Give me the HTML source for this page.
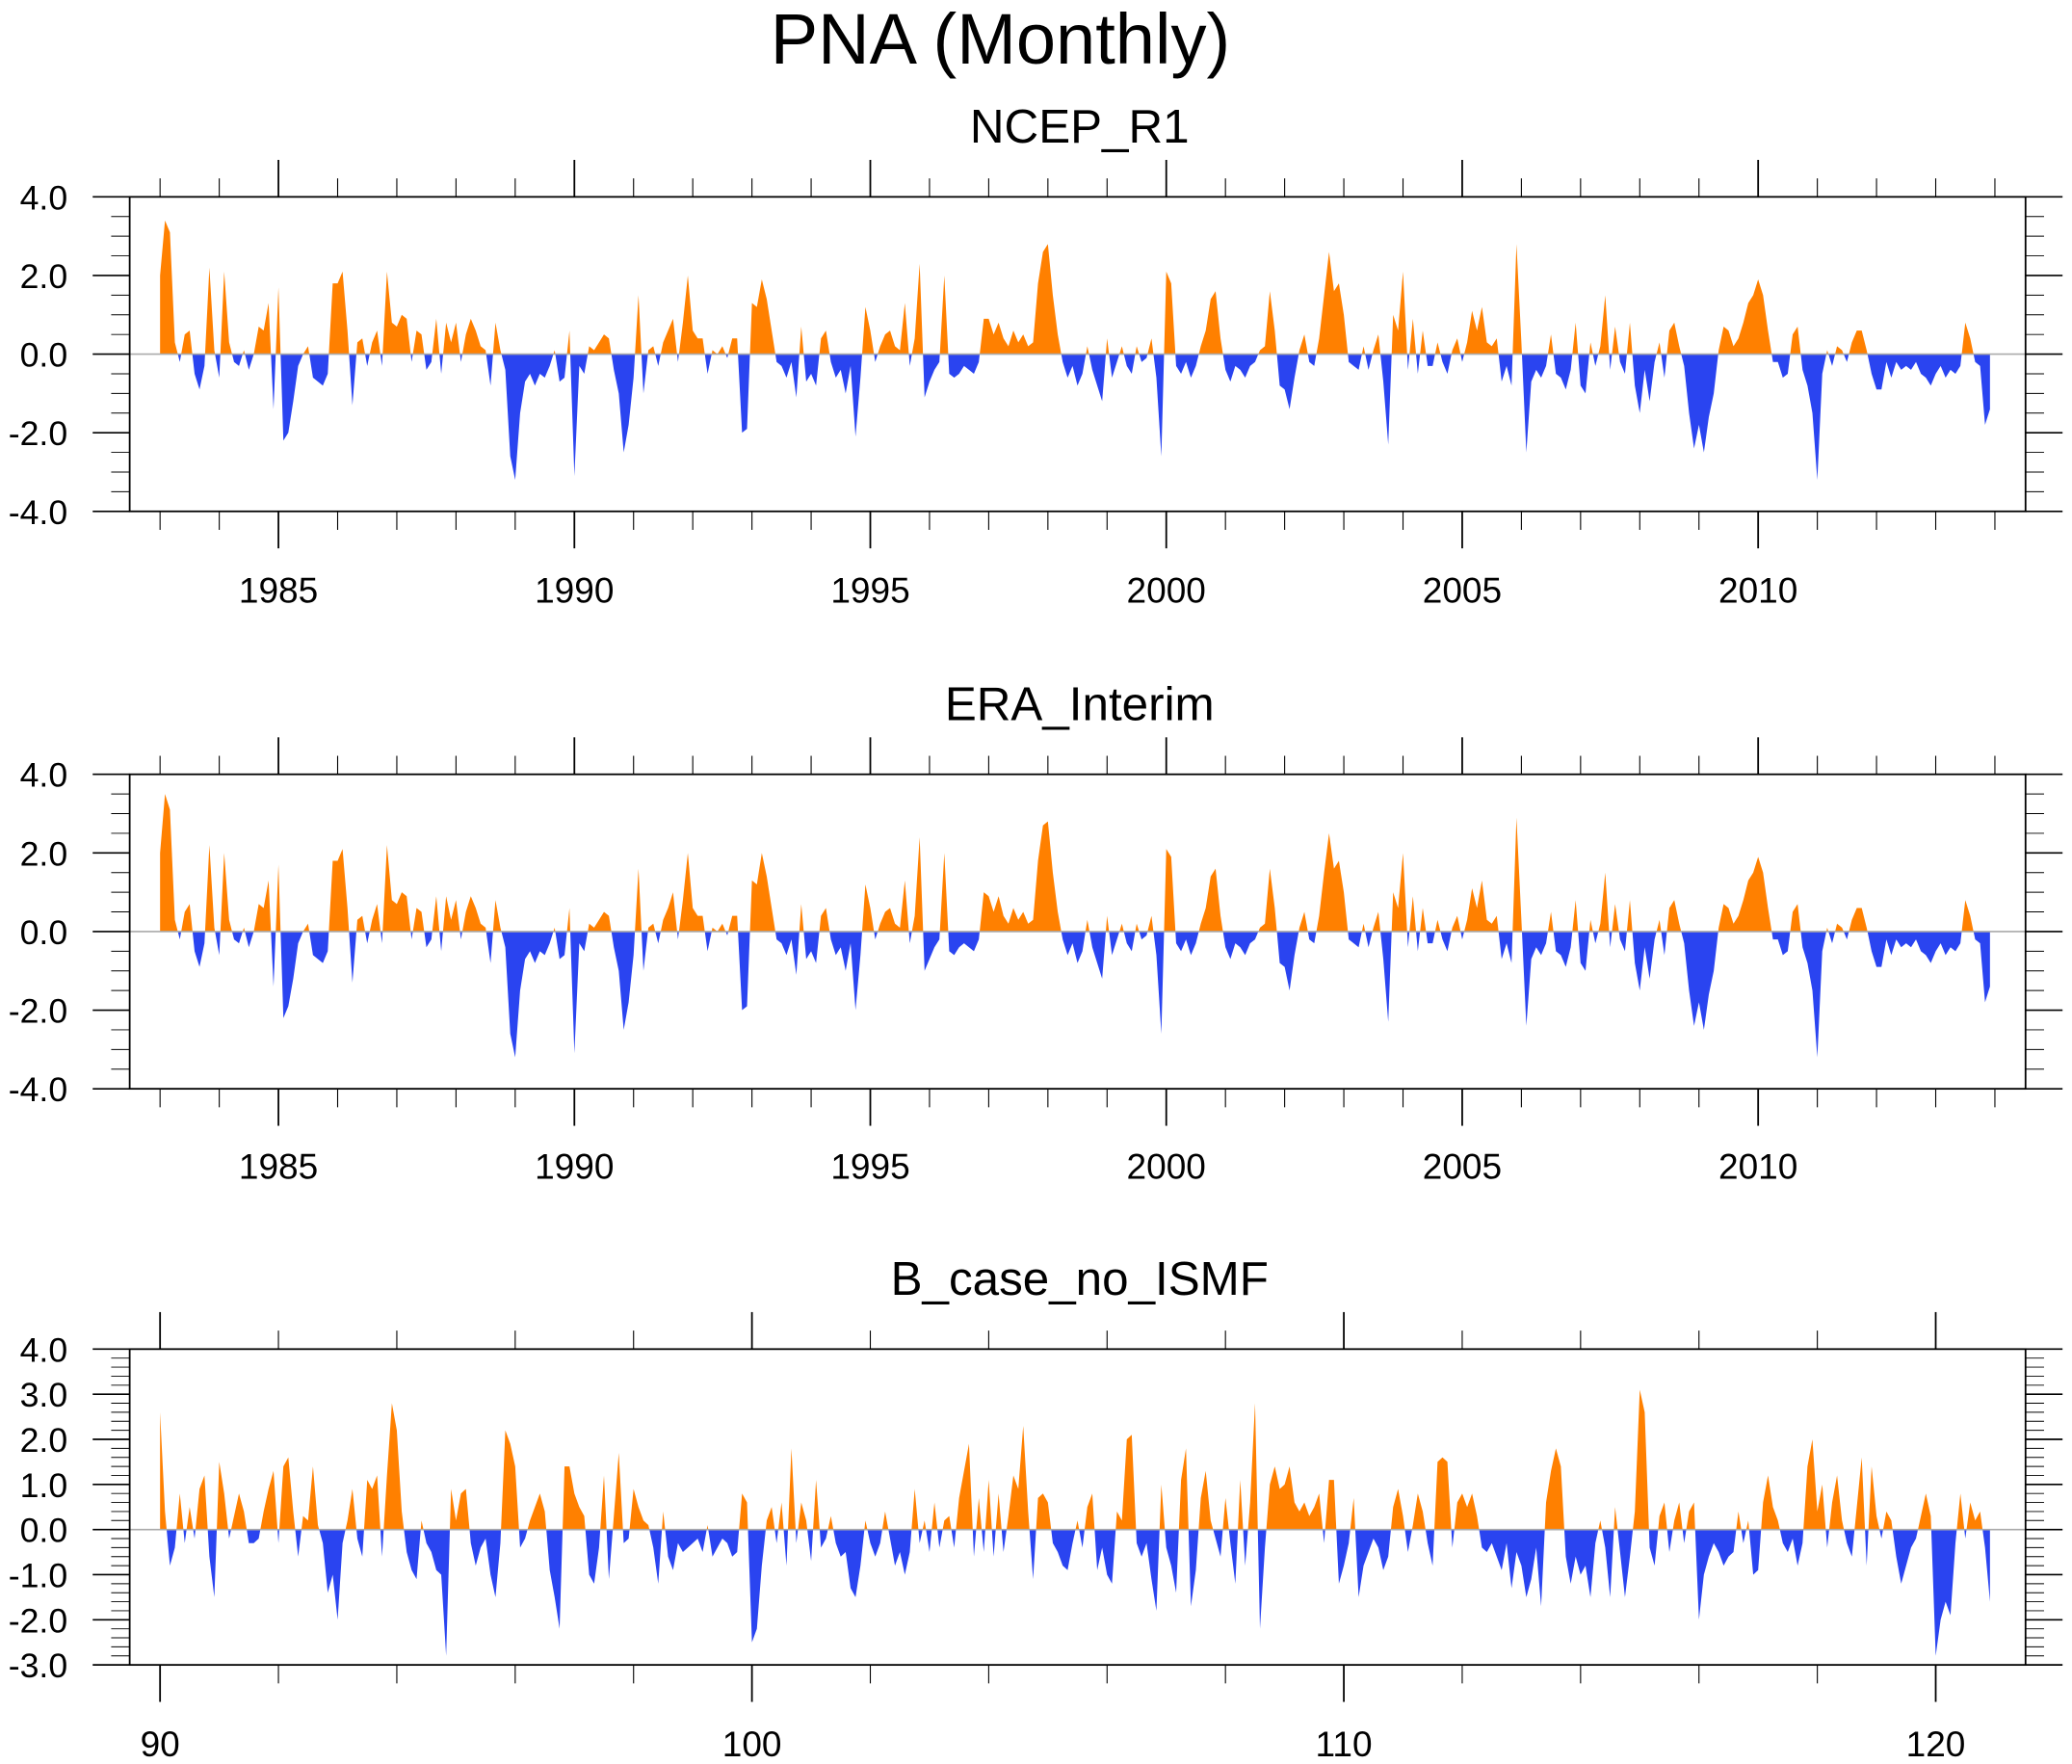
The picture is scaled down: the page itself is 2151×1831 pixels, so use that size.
<!DOCTYPE html>
<html><head><meta charset="utf-8"><style>
html,body{margin:0;padding:0;background:#fff;}
svg{display:block;font-family:"Liberation Sans",sans-serif;}
</style></head><body>
<svg id="chart" width="2151" height="1831" viewBox="0 0 1568 1335" xmlns="http://www.w3.org/2000/svg">
<text x="757" y="48" font-size="54" text-anchor="middle">PNA (Monthly)</text>
</svg>
<script>
const ncepValues=[
2.0,3.4,3.1,0.3,-0.2,0.5,0.6,-0.5,-0.9,-0.3,2.2,0.1,
-0.6,2.1,0.3,-0.2,-0.3,0.1,-0.4,0.0,0.7,0.6,1.3,-1.4,
1.7,-2.2,-2.0,-1.2,-0.3,0.0,0.2,-0.6,-0.7,-0.8,-0.5,1.8,
1.8,2.1,0.6,-1.3,0.3,0.4,-0.3,0.3,0.6,-0.3,2.1,0.8,
0.7,1.0,0.9,-0.2,0.6,0.5,-0.4,-0.2,0.9,-0.5,0.8,0.3,
0.8,-0.2,0.5,0.9,0.6,0.2,0.1,-0.8,0.8,0.1,-0.4,-2.6,
-3.2,-1.5,-0.7,-0.5,-0.8,-0.5,-0.6,-0.3,0.1,-0.7,-0.6,0.6,
-3.1,-0.3,-0.5,0.2,0.1,0.3,0.5,0.4,-0.4,-1.0,-2.5,-1.8,
-0.6,1.5,-1.0,0.1,0.2,-0.3,0.3,0.6,0.9,-0.2,0.8,2.0,
0.6,0.4,0.4,-0.5,0.1,0.0,0.2,-0.1,0.4,0.4,-2.0,-1.9,
1.3,1.2,1.9,1.4,0.6,-0.2,-0.3,-0.6,-0.2,-1.1,0.7,-0.7,
-0.5,-0.8,0.4,0.6,-0.2,-0.6,-0.4,-1.0,-0.3,-2.1,-0.6,1.2,
0.6,-0.2,0.2,0.5,0.6,0.2,0.1,1.3,-0.3,0.4,2.3,-1.1,
-0.7,-0.4,-0.2,2.0,-0.5,-0.6,-0.5,-0.3,-0.4,-0.5,-0.2,0.9,
0.9,0.5,0.8,0.4,0.2,0.6,0.3,0.5,0.2,0.3,1.8,2.6,
2.8,1.5,0.5,-0.2,-0.6,-0.3,-0.8,-0.5,0.2,-0.4,-0.8,-1.2,
0.4,-0.6,-0.2,0.2,-0.3,-0.5,0.2,-0.2,-0.1,0.4,-0.6,-2.6,
2.1,1.8,-0.3,-0.5,-0.2,-0.6,-0.3,0.2,0.6,1.4,1.6,0.4,
-0.4,-0.7,-0.3,-0.4,-0.6,-0.3,-0.2,0.1,0.2,1.6,0.6,-0.8,
-0.9,-1.4,-0.6,0.1,0.5,-0.2,-0.3,0.4,1.5,2.6,1.6,1.8,
1.0,-0.2,-0.3,-0.4,0.2,-0.4,0.1,0.5,-0.7,-2.3,1.0,0.6,
2.1,-0.4,0.9,-0.5,0.6,-0.3,-0.3,0.3,-0.2,-0.5,0.1,0.4,
-0.2,0.3,1.1,0.6,1.2,0.3,0.2,0.4,-0.7,-0.3,-0.8,2.8,
0.3,-2.5,-0.7,-0.4,-0.6,-0.3,0.5,-0.5,-0.6,-0.9,-0.4,0.8,
-0.8,-1.0,0.3,-0.3,0.2,1.5,-0.4,0.7,-0.2,-0.5,0.8,-0.8,
-1.5,-0.4,-1.2,-0.2,0.3,-0.6,0.6,0.8,0.2,-0.3,-1.5,-2.4,
-1.8,-2.5,-1.6,-1.0,0.1,0.7,0.6,0.2,0.4,0.8,1.3,1.5,
1.9,1.5,0.6,-0.2,-0.2,-0.6,-0.5,0.5,0.7,-0.4,-0.8,-1.5,
-3.2,-0.5,0.1,-0.3,0.2,0.1,-0.2,0.3,0.6,0.6,0.1,-0.5,
-0.9,-0.9,-0.2,-0.6,-0.2,-0.4,-0.3,-0.4,-0.2,-0.5,-0.6,-0.8,
-0.5,-0.3,-0.6,-0.4,-0.5,-0.3,0.8,0.4,-0.2,-0.3,-1.8,-1.4];
const eraValues=[
2.0,3.5,3.1,0.3,-0.2,0.5,0.7,-0.5,-0.9,-0.3,2.2,0.1,
-0.6,2.0,0.3,-0.2,-0.3,0.1,-0.4,0.0,0.7,0.6,1.3,-1.4,
1.7,-2.2,-1.9,-1.2,-0.3,0.0,0.2,-0.6,-0.7,-0.8,-0.5,1.8,
1.8,2.1,0.6,-1.3,0.3,0.4,-0.3,0.3,0.7,-0.3,2.2,0.8,
0.7,1.0,0.9,-0.2,0.6,0.5,-0.4,-0.2,0.9,-0.5,0.9,0.3,
0.8,-0.2,0.5,0.9,0.6,0.2,0.1,-0.8,0.8,0.1,-0.4,-2.6,
-3.2,-1.5,-0.7,-0.5,-0.8,-0.5,-0.6,-0.3,0.1,-0.7,-0.6,0.6,
-3.1,-0.3,-0.5,0.2,0.1,0.3,0.5,0.4,-0.4,-1.0,-2.5,-1.8,
-0.6,1.6,-1.0,0.1,0.2,-0.3,0.3,0.6,1.0,-0.2,0.8,2.0,
0.6,0.4,0.4,-0.5,0.1,0.0,0.2,-0.1,0.4,0.4,-2.0,-1.9,
1.3,1.2,2.0,1.4,0.6,-0.2,-0.3,-0.6,-0.2,-1.1,0.7,-0.7,
-0.5,-0.8,0.4,0.6,-0.2,-0.6,-0.4,-1.0,-0.3,-2.0,-0.6,1.2,
0.6,-0.2,0.2,0.5,0.6,0.2,0.1,1.3,-0.3,0.4,2.4,-1.0,
-0.7,-0.4,-0.2,2.0,-0.5,-0.6,-0.4,-0.3,-0.4,-0.5,-0.2,1.0,
0.9,0.5,0.9,0.4,0.2,0.6,0.3,0.5,0.2,0.3,1.8,2.7,
2.8,1.5,0.5,-0.2,-0.6,-0.3,-0.8,-0.5,0.3,-0.4,-0.8,-1.2,
0.4,-0.6,-0.2,0.2,-0.3,-0.5,0.2,-0.2,-0.1,0.4,-0.6,-2.6,
2.1,1.9,-0.3,-0.5,-0.2,-0.6,-0.3,0.2,0.6,1.4,1.6,0.4,
-0.4,-0.7,-0.3,-0.4,-0.6,-0.3,-0.2,0.1,0.2,1.6,0.6,-0.8,
-0.9,-1.5,-0.6,0.1,0.5,-0.2,-0.3,0.4,1.5,2.5,1.6,1.8,
1.0,-0.2,-0.3,-0.4,0.2,-0.4,0.1,0.5,-0.7,-2.3,1.0,0.6,
2.0,-0.4,0.9,-0.5,0.6,-0.3,-0.3,0.3,-0.2,-0.5,0.1,0.4,
-0.2,0.3,1.1,0.6,1.3,0.3,0.2,0.4,-0.7,-0.3,-0.8,2.9,
0.3,-2.4,-0.7,-0.4,-0.6,-0.3,0.5,-0.5,-0.6,-0.9,-0.4,0.8,
-0.8,-1.0,0.3,-0.3,0.2,1.5,-0.4,0.7,-0.2,-0.5,0.8,-0.8,
-1.5,-0.4,-1.2,-0.2,0.3,-0.6,0.6,0.8,0.2,-0.3,-1.5,-2.4,
-1.8,-2.5,-1.6,-1.0,0.1,0.7,0.6,0.2,0.4,0.8,1.3,1.5,
1.9,1.5,0.6,-0.2,-0.2,-0.6,-0.5,0.5,0.7,-0.4,-0.8,-1.5,
-3.2,-0.5,0.1,-0.3,0.2,0.1,-0.2,0.3,0.6,0.6,0.1,-0.5,
-0.9,-0.9,-0.2,-0.6,-0.2,-0.4,-0.3,-0.4,-0.2,-0.5,-0.6,-0.8,
-0.5,-0.3,-0.6,-0.4,-0.5,-0.3,0.8,0.4,-0.2,-0.3,-1.8,-1.4];
const modelValues=[
2.6,0.4,-0.8,-0.4,0.8,-0.3,0.5,-0.2,0.9,1.2,-0.6,-1.5,
1.5,0.8,-0.2,0.3,0.8,0.4,-0.3,-0.3,-0.2,0.4,0.9,1.3,
-0.3,1.4,1.6,0.4,-0.6,0.3,0.2,1.4,0.1,-0.3,-1.4,-1.0,
-2.0,-0.3,0.2,0.9,-0.2,-0.6,1.1,0.9,1.2,-0.6,1.2,2.8,
2.2,0.4,-0.5,-0.9,-1.1,0.2,-0.3,-0.5,-0.9,-1.0,-2.8,0.9,
0.2,0.8,0.9,-0.3,-0.8,-0.4,-0.2,-1.0,-1.5,-0.3,2.2,1.9,
1.4,-0.4,-0.2,0.2,0.5,0.8,0.4,-0.9,-1.5,-2.2,1.4,1.4,
0.8,0.5,0.3,-1.0,-1.2,-0.4,1.2,-1.1,0.3,1.7,-0.3,-0.2,
0.9,0.5,0.2,0.1,-0.4,-1.2,0.4,-0.6,-0.9,-0.3,-0.5,-0.4,
-0.3,-0.2,-0.5,0.1,-0.6,-0.4,-0.2,-0.3,-0.6,-0.5,0.8,0.6,
-2.5,-2.2,-0.8,0.2,0.5,-0.3,0.6,-0.8,1.8,-0.3,0.6,0.2,
-0.7,1.1,-0.4,-0.2,0.3,-0.3,-0.6,-0.5,-1.3,-1.5,-0.8,0.2,
-0.3,-0.6,-0.3,0.4,-0.2,-0.8,-0.5,-1.0,-0.5,0.9,-0.3,0.2,
-0.5,0.6,-0.4,0.2,0.3,-0.4,0.7,1.3,1.9,-0.6,0.7,-0.5,
1.1,-0.6,0.8,-0.5,0.3,1.2,0.9,2.3,0.4,-1.1,0.7,0.8,
0.6,-0.3,-0.5,-0.8,-0.9,-0.3,0.2,-0.4,0.5,0.8,-0.9,-0.4,
-1.0,-1.2,0.4,0.2,2.0,2.1,-0.3,-0.6,-0.3,-1.1,-1.8,1.0,
-0.4,-0.8,-1.4,1.1,1.8,-1.7,-0.9,0.7,1.3,0.2,-0.2,-0.6,
0.7,-0.3,-1.2,1.1,-0.8,0.6,2.8,-2.2,-0.4,1.0,1.4,0.9,
1.0,1.4,0.6,0.4,0.6,0.3,0.5,0.8,-0.3,1.1,1.1,-1.2,
-0.8,-0.3,0.7,-1.5,-0.8,-0.5,-0.2,-0.4,-0.9,-0.6,0.5,0.9,
0.3,-0.5,0.1,0.8,0.4,-0.3,-0.8,1.5,1.6,1.5,-0.4,0.6,
0.8,0.5,0.8,0.3,-0.4,-0.5,-0.3,-0.6,-0.9,-0.3,-1.3,-0.5,
-0.8,-1.5,-1.1,-0.4,-1.7,0.6,1.3,1.8,1.4,-0.6,-1.2,-0.6,
-1.0,-0.8,-1.5,-0.3,0.2,-0.4,-1.5,0.5,-0.5,-1.5,-0.6,0.4,
3.1,2.6,-0.4,-0.8,0.3,0.6,-0.5,0.2,0.6,-0.3,0.4,0.6,
-2.0,-1.0,-0.6,-0.3,-0.5,-0.8,-0.6,-0.5,0.4,-0.3,0.2,-1.0,
-0.9,0.6,1.2,0.5,0.2,-0.3,-0.5,-0.2,-0.8,-0.3,1.4,2.0,
0.4,1.0,-0.4,0.6,1.2,0.2,-0.3,-0.6,0.5,1.6,-0.8,1.4,
0.3,-0.2,0.4,0.2,-0.6,-1.2,-0.8,-0.4,-0.2,0.3,0.8,0.3,
-2.8,-2.0,-1.6,-1.9,-0.3,0.8,-0.2,0.6,0.2,0.4,-0.4,-1.6];
const obsXLabels=["1985","1990","1995","2000","2005","2010"];
const modelXLabels=["90","100","110","120"];
const obsYLabels=["-4.0","-2.0","0.0","2.0","4.0"];
const modelYLabels=["-3.0","-2.0","-1.0","0.0","1.0","2.0","3.0","4.0"];

const NS="http://www.w3.org/2000/svg";
const svg=document.getElementById('chart');
function mk(tag,attrs,parent){const e=document.createElementNS(NS,tag);for(const k in attrs)e.setAttribute(k,attrs[k]);(parent||svg).appendChild(e);return e;}

function panel(cfg){
  const L=98,R=1533,T=cfg.top,B=cfg.bottom;
  const g=mk('g',{});
  
  
  const yS=v=>T+(cfg.ymax-v)/(cfg.ymax-cfg.ymin)*(B-T);
  const xS=t=>121+(t-cfg.t0)*44.8;
  const y0=yS(0);
  const t=mk('text',{x:817,y:T-41,'font-size':36,'text-anchor':'middle'},g);
  t.textContent=cfg.title;
  
  
  let d='M'+xS(cfg.t0)+','+y0;
  cfg.values.forEach((v,i)=>{d+=' L'+xS(cfg.t0+i/12).toFixed(2)+','+yS(v).toFixed(2);});
  d+=' L'+xS(cfg.t0+(cfg.values.length-1)/12).toFixed(2)+','+y0+' Z';
  const id=cfg.name;
  const defs=mk('defs',{},g);
  const c1=mk('clipPath',{id:id+'-up'},defs);mk('rect',{x:L,y:T,width:R-L,height:y0-T},c1);
  const c2=mk('clipPath',{id:id+'-dn'},defs);mk('rect',{x:L,y:y0,width:R-L,height:B-y0},c2);
  const pu=mk('path',{d:d,fill:'#ff8000','clip-path':'url(#'+id+'-up)'},g);
  
  
  const pd=mk('path',{d:d,fill:'#2a44f0','clip-path':'url(#'+id+'-dn)'},g);
  
  
  mk('line',{x1:L,x2:R,y1:y0,y2:y0,stroke:'#aaa','stroke-width':1.2},g);
  const box=mk('rect',{x:L,y:T,width:R-L,height:B-T,fill:'none',stroke:'#000','stroke-width':1.3},g);
  
  
  const nMinor=Math.round((cfg.ymax-cfg.ymin)/cfg.yminor);
  for(let i=0;i<=nMinor;i++){
    const v=cfg.ymin+i*cfg.yminor;const y=yS(v);
    const major=Math.abs(v/cfg.ymajor-Math.round(v/cfg.ymajor))<1e-6;
    const len=major?28:14;
    mk('line',{x1:L-len,x2:L,y1:y,y2:y,stroke:'#000','stroke-width':major?1.2:0.7},g);
    mk('line',{x1:R,x2:R+len,y1:y,y2:y,stroke:'#000','stroke-width':major?1.2:0.7},g);
  }
  cfg.yLabels.forEach((s,i)=>{
    const v=cfg.ymin+i*cfg.ymajor;
    const tx=mk('text',{x:51,y:yS(v)+9.5,'font-size':26,'text-anchor':'end'},g);
    tx.textContent=s;
    
    
  });
  for(let yr=cfg.t0;yr<=cfg.t1;yr+=cfg.xminor){
    const x=xS(yr);const major=(yr%cfg.xmajor)===0;const len=major?28:14;
    mk('line',{x1:x,x2:x,y1:T-len,y2:T,stroke:'#000','stroke-width':major?1.3:0.8},g);
    mk('line',{x1:x,x2:x,y1:B,y2:B+len,stroke:'#000','stroke-width':major?1.3:0.8},g);
  }
  cfg.xLabels.forEach(s=>{
    const tx=mk('text',{x:xS(+s),y:B+cfg.labelDy,'font-size':27,'text-anchor':'middle'},g);
    tx.textContent=s;
    
    
  });
}
panel({name:'ncep-r1',title:'NCEP_R1',top:149,bottom:387,ymin:-4,ymax:4,ymajor:2,yminor:0.5,yLabels:obsYLabels,values:ncepValues,t0:1983,t1:2014,xminor:1,xmajor:5,xLabels:obsXLabels,labelDy:69});
panel({name:'era-interim',title:'ERA_Interim',top:586,bottom:824,ymin:-4,ymax:4,ymajor:2,yminor:0.5,yLabels:obsYLabels,values:eraValues,t0:1983,t1:2014,xminor:1,xmajor:5,xLabels:obsXLabels,labelDy:68});
panel({name:'b-case-no-ismf',title:'B_case_no_ISMF',top:1021,bottom:1260,ymin:-3,ymax:4,ymajor:1,yminor:0.2,yLabels:modelYLabels,values:modelValues,t0:90,t1:120,xminor:2,xmajor:10,xLabels:modelXLabels,labelDy:69});
</script>
</body></html>
